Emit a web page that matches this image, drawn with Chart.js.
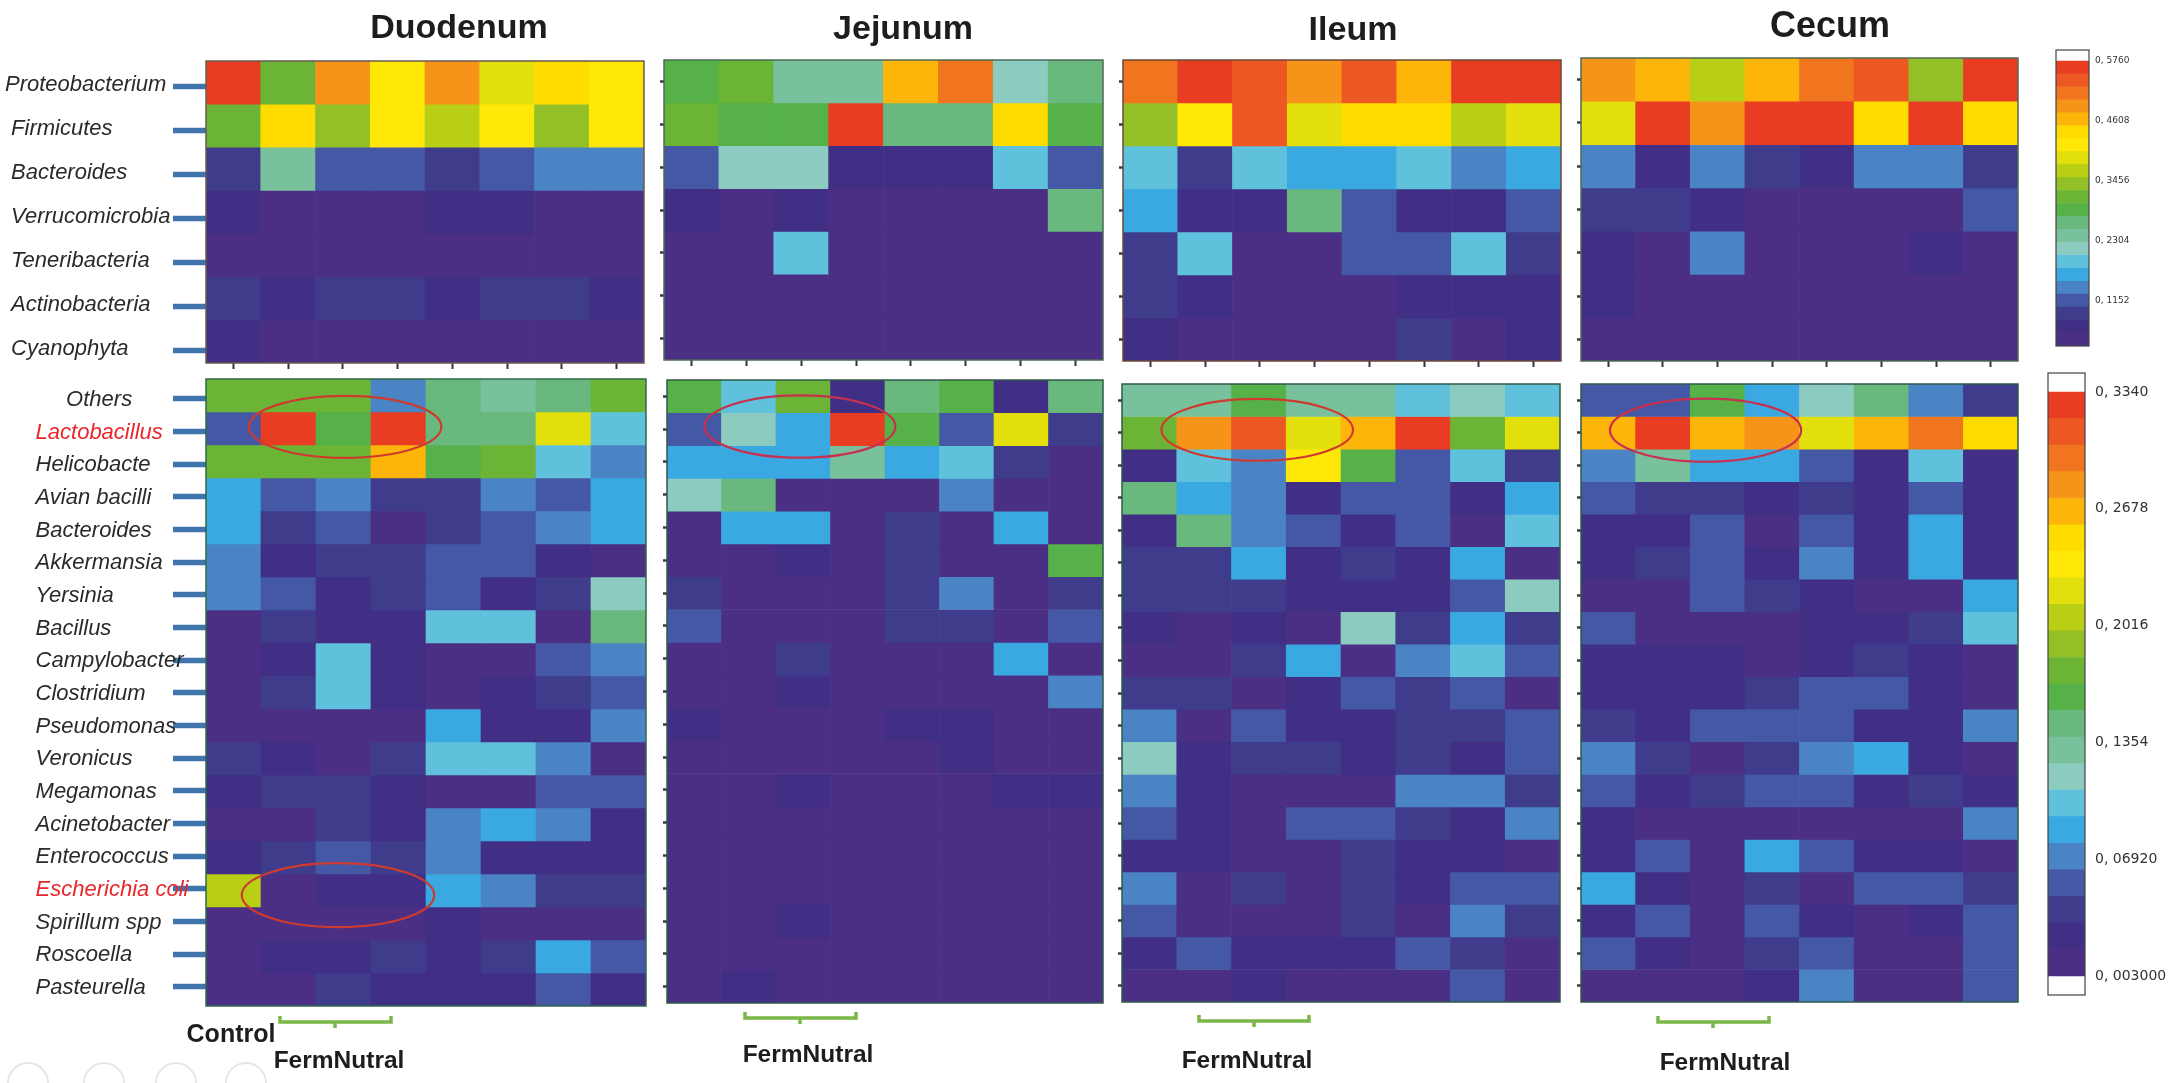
<!DOCTYPE html>
<html>
<head>
<meta charset="utf-8">
<script src="https://cdn.jsdelivr.net/npm/chart.js@4"></script>
<style>
html,body{margin:0;padding:0;background:#fff;width:2175px;height:1083px;overflow:hidden;position:relative}
canvas{position:absolute;display:block;filter:blur(0.6px)}
.t{position:absolute;font-family:"Liberation Sans",Arial,sans-serif;font-weight:bold;color:#1d1d1d;white-space:nowrap;transform:translate(-50%,-50%);filter:blur(0.5px)}
svg{position:absolute;left:0;top:0}
</style>
</head>
<body>
<svg width="2175" height="1083" id="ov">
  <g fill="none" stroke="#7ab648" stroke-width="3.5">
    <path d="M280 1016V1022H391V1016M335 1022V1028"/>
    <path d="M745 1012V1018H856V1012M800 1018V1024"/>
    <path d="M1199 1015V1021H1309V1015M1254 1021V1027"/>
    <path d="M1658 1016V1022H1769V1016M1713 1022V1028"/>
  </g>
  <g fill="none" stroke="#e6e6e6" stroke-width="2">
    <circle cx="28" cy="1083" r="20"/><circle cx="104" cy="1083" r="20"/>
    <circle cx="176" cy="1083" r="20"/><circle cx="246" cy="1083" r="20"/>
  </g>
</svg>
<div class="t" style="left:459px;top:26px;font-size:34px">Duodenum</div>
<div class="t" style="left:903px;top:27px;font-size:34px">Jejunum</div>
<div class="t" style="left:1353px;top:28px;font-size:34px">Ileum</div>
<div class="t" style="left:1830px;top:25px;font-size:36px">Cecum</div>
<div class="t" style="left:231px;top:1033px;font-size:25px">Control</div>
<div class="t" style="left:339px;top:1060px;font-size:24.5px">FermNutral</div>
<div class="t" style="left:808px;top:1054px;font-size:24.5px">FermNutral</div>
<div class="t" style="left:1247px;top:1060px;font-size:24.5px">FermNutral</div>
<div class="t" style="left:1725px;top:1062px;font-size:24.5px">FermNutral</div>
<script>
// ---- categories ----
const groups = ['1','2','3','4','5','6','7','8'];
const phylaLabels = ['Proteobacterium','Firmicutes','Bacteroides','Verrucomicrobia','Teneribacteria','Actinobacteria','Cyanophyta'];
const genusLabels = ['Others','Lactobacillus','Helicobacte','Avian bacilli','Bacteroides','Akkermansia','Yersinia','Bacillus','Campylobacter','Clostridium','Pseudomonas','Veronicus','Megamonas','Acinetobacter','Enterococcus','Escherichia coli','Spirillum spp','Roscoella','Pasteurella'];
const redLabels = ['Lactobacillus','Escherichia coli'];

// ---- colour-scale levels (index into the colour bar) ----
const duodenumPhyla = [
 [21,11,18,15,18,14,16,15],
 [11,16,12,15,13,15,12,15],
 [2,8,3,3,2,3,4,4],
 [1,0,0,0,1,1,0,0],
 [0,0,0,0,0,0,0,0],
 [2,1,2,2,1,2,2,1],
 [1,0,0,0,0,0,0,0]];
const jejunumPhyla = [
 [10,11,8,8,17,19,7,9],
 [11,10,10,21,9,9,16,10],
 [3,7,7,1,1,1,6,3],
 [1,0,1,0,0,0,0,9],
 [0,0,6,0,0,0,0,0],
 [0,0,0,0,0,0,0,0],
 [0,0,0,0,0,0,0,0]];
const ileumPhyla = [
 [19,21,20,18,20,17,21,21],
 [12,15,20,14,16,16,13,14],
 [6,2,6,5,5,6,4,5],
 [5,1,1,9,3,1,1,3],
 [2,6,0,0,3,3,6,2],
 [2,1,0,0,0,1,1,1],
 [1,0,0,0,0,2,0,1]];
const cecumPhyla = [
 [18,17,13,17,19,20,12,21],
 [14,21,18,21,21,16,21,16],
 [4,1,4,2,1,4,4,2],
 [2,2,1,0,0,0,0,3],
 [1,0,4,0,0,0,1,0],
 [1,0,0,0,0,0,0,0],
 [0,0,0,0,0,0,0,0]];
const duodenumGenus = [
 [11,11,11,4,9,8,9,11],
 [3,21,10,21,9,9,14,6],
 [11,11,11,17,10,11,6,4],
 [5,3,4,2,2,4,3,5],
 [5,2,3,0,2,3,4,5],
 [4,1,2,2,3,3,1,0],
 [4,3,1,2,3,1,2,7],
 [0,2,1,1,6,6,0,9],
 [0,1,6,1,0,0,3,4],
 [0,2,6,1,0,1,2,3],
 [0,0,0,0,5,1,1,4],
 [2,1,0,2,6,6,4,0],
 [1,2,2,1,0,0,3,3],
 [0,0,2,1,4,5,4,1],
 [1,2,3,2,4,1,1,1],
 [13,0,1,1,5,4,2,2],
 [0,0,0,0,1,0,0,0],
 [0,1,1,2,1,2,5,3],
 [0,0,2,1,1,1,3,1]];
const jejunumGenus = [
 [10,6,11,1,9,10,1,9],
 [3,7,5,21,10,3,14,2],
 [5,5,5,8,5,6,2,0],
 [7,9,0,0,0,4,0,0],
 [0,5,5,0,2,0,5,0],
 [0,0,1,0,2,0,0,10],
 [2,0,0,0,2,4,0,2],
 [3,0,0,0,2,2,0,3],
 [0,0,2,0,0,0,5,0],
 [0,0,1,0,0,0,0,4],
 [1,0,0,0,1,1,0,0],
 [0,0,0,0,0,1,0,0],
 [0,0,1,0,0,0,1,1],
 [0,0,0,0,0,0,0,0],
 [0,0,0,0,0,0,0,0],
 [0,0,0,0,0,0,0,0],
 [0,0,1,0,0,0,0,0],
 [0,0,0,0,0,0,0,0],
 [0,1,0,0,0,0,0,0]];
const ileumGenus = [
 [8,8,10,8,8,6,7,6],
 [11,18,20,14,17,21,11,14],
 [1,6,4,15,10,3,6,2],
 [9,5,4,1,3,3,1,5],
 [1,9,4,3,1,3,0,6],
 [2,2,5,1,2,1,5,0],
 [2,2,2,1,1,1,3,7],
 [1,0,1,0,7,2,5,2],
 [0,0,2,5,0,4,6,3],
 [2,2,0,1,3,2,3,0],
 [4,0,3,1,1,2,2,3],
 [7,1,2,2,1,2,1,3],
 [4,1,0,0,0,4,4,2],
 [3,1,0,3,3,2,1,4],
 [1,1,0,0,2,1,1,0],
 [4,0,2,0,2,1,3,3],
 [3,0,0,0,2,0,4,2],
 [1,3,1,1,1,3,2,0],
 [0,0,1,0,0,0,3,0]];
const cecumGenus = [
 [3,3,10,5,7,9,4,2],
 [17,21,17,18,14,17,19,16],
 [4,8,5,5,3,1,6,1],
 [3,2,2,1,2,1,3,1],
 [1,1,3,0,3,1,5,1],
 [1,2,3,1,4,1,5,1],
 [0,0,3,2,1,0,0,5],
 [3,0,0,0,1,1,2,6],
 [1,1,1,0,1,2,1,0],
 [1,1,1,2,3,3,1,0],
 [2,1,3,3,3,1,1,4],
 [4,2,0,2,4,5,1,0],
 [3,1,2,3,3,1,2,1],
 [1,0,0,0,0,0,0,4],
 [1,3,0,5,3,1,1,0],
 [5,1,0,2,0,3,3,2],
 [1,3,0,3,1,0,1,3],
 [3,1,0,2,3,0,0,3],
 [0,0,0,1,4,0,0,3]];

// ---- colour bar tick labels ----
const topBarTicks = [0.1152,0.2304,0.3456,0.4608,0.5760];
const topBarLabels = ['0, 1152','0, 2304','0, 3456','0, 4608','0, 5760'];
const bottomBarTicks = [0.003,0.0692,0.1354,0.2016,0.2678,0.3340];
const bottomBarLabels = ['0, 003000','0, 06920','0, 1354','0, 2016','0, 2678','0, 3340'];

// ---- styling ----
const palette = ['#4b2f84','#412f85','#3f3c8b','#4558a5','#4a84c4','#3aa9e1','#5fc1dc','#8ccbc0','#78c19c','#69b97f','#55b148','#6cb435','#93c026','#b8cf16','#e3df0c','#ffe808','#ffdc00','#fdb50a','#f6941a','#f1741f','#ed5722','#e83d22'];
const FONT = '"Liberation Sans", Arial, sans-serif';

const frame = {
  id:'frame',
  afterDraw(c,_a,o){
    const a=c.chartArea, x=c.ctx;
    x.save(); x.strokeStyle=o.color||'#4d5a50'; x.lineWidth=o.width||1.5;
    x.strokeRect(a.left,a.top,a.right-a.left,a.bottom-a.top); x.restore();
  }
};
const ellipses = {
  id:'ellipses',
  afterDatasetsDraw(c,_a,o){
    const x=c.ctx, sx=c.scales.x, sy=c.scales.y;
    (o.items||[]).forEach(e=>{
      const px=sx.getPixelForValue(e.col-0.5), py=sy.getPixelForValue(e.row);
      const rx=Math.abs(sx.getPixelForValue(e.col-0.5+e.rx)-px), ry=Math.abs(sy.getPixelForValue(e.row+e.ry)-py);
      x.save(); x.beginPath(); x.ellipse(px,py,rx,ry,0,0,Math.PI*2);
      x.strokeStyle=e.color; x.lineWidth=2.2; x.stroke(); x.restore();
    });
  }
};

function mount(left,top,w,h){
  const c=document.createElement('canvas');
  c.width=w; c.height=h;
  c.style.left=left+'px'; c.style.top=top+'px'; c.style.width=w+'px'; c.style.height=h+'px';
  document.body.appendChild(c);
  return c.getContext('2d');
}

function heat(rect,rows,labels,o){
  o=o||{};
  const n=rows.length, labelled=!!o.labelled, pad=6;
  const left=labelled?0:rect.x-pad, top=rect.y-pad;
  const w=rect.x+rect.w+pad-left, h=rect.h+pad*2;
  const axisW=labelled?rect.x-o.labelLeft:pad;
  const ctx=mount(left,top,w,h);
  new Chart(ctx,{
    type:'bar',
    data:{labels:groups,datasets:rows.map((r,i)=>({
      label:labels[i],
      data:r.map(()=>[i,i+1]),
      backgroundColor:r.map(v=>palette[v]),
      borderWidth:0,borderSkipped:false,barPercentage:1,categoryPercentage:1
    }))},
    plugins:[frame,ellipses],
    options:{
      responsive:false,animation:false,devicePixelRatio:1,
      layout:{padding:{left:labelled?o.labelLeft:0,top:pad,right:pad,bottom:o.xTicks?0:pad}},
      plugins:{legend:{display:false},tooltip:{enabled:false},title:{display:false},
        frame:{color:o.frame},ellipses:{items:o.ellipses||[]}},
      scales:{
        x:{type:'category',stacked:true,border:{display:false},
          grid:{offset:false,drawOnChartArea:false,drawTicks:!!o.xTicks,tickLength:pad,tickColor:'#33333a',tickWidth:2},
          ticks:{display:false},
          afterFit:s=>{s.height=o.xTicks?pad:0;s.paddingLeft=0;s.paddingRight=0;}},
        y:{type:'linear',reverse:true,min:0,max:n,border:{display:false},
          afterBuildTicks:s=>{s.ticks=labels.map((_,i)=>({value:(o.tickStart||0.5)+i*(o.tickStep||1)}));},
          afterFit:s=>{s.width=axisW;s.paddingTop=0;s.paddingBottom=0;},
          grid:{drawOnChartArea:false,tickLength:labelled?33:4,tickColor:labelled?'#3f74ac':'#3a3a44',tickWidth:labelled?5.5:2.5},
          ticks:{display:labelled,autoSkip:false,crossAlign:'far',padding:0,labelOffset:o.labelOffset||0,
            font:{family:FONT,size:22,style:'italic'},
            color:c=>redLabels.includes(labels[c.index])?'#e8262c':'#2a2a2a',
            callback:(_v,i)=>'\u00A0'.repeat((o.indent||{})[labels[i]]||0)+labels[i]}
        }
      }
    }
  });
}

function colorBar(rect,ticks,tickLabels,lo,hi,vmin,vmax,fs,gap){
  const pad=3, w=2175-rect.x+pad;
  const ctx=mount(rect.x-pad,rect.y-pad,w,rect.h+pad*2);
  const step=(hi-lo)/palette.length;
  new Chart(ctx,{
    type:'bar',
    data:{labels:['scale'],datasets:palette.map((c,i)=>({
      label:'level '+i,data:[[lo+i*step,lo+(i+1)*step]],backgroundColor:c,
      borderWidth:0,borderSkipped:false,barPercentage:1,categoryPercentage:1
    }))},
    plugins:[frame],
    options:{
      responsive:false,animation:false,devicePixelRatio:1,
      layout:{padding:{left:pad,top:pad,bottom:pad,right:0}},
      plugins:{legend:{display:false},tooltip:{enabled:false},frame:{color:'#444',width:1.2}},
      scales:{
        x:{display:false,stacked:true},
        y:{type:'linear',position:'right',min:vmin,max:vmax,border:{display:false},
          afterBuildTicks:s=>{s.ticks=ticks.map(v=>({value:v}));},
          afterFit:s=>{s.width=w-pad-rect.w;s.paddingTop=0;s.paddingBottom=0;},
          grid:{drawOnChartArea:false,drawTicks:false},
          ticks:{autoSkip:false,padding:gap,crossAlign:'near',font:{family:'"DejaVu Sans", sans-serif',size:fs},color:'#333',
            callback:(_v,i)=>tickLabels[i]}
        }
      }
    }
  });
}

const red='#cf3a2e', rose='#c9304f';
heat({x:206,y:61,w:438,h:302},duodenumPhyla,phylaLabels,{labelled:true,labelLeft:5,xTicks:true,tickStart:0.6,tickStep:1.02,labelOffset:-2,indent:{Firmicutes:1,Bacteroides:1,Verrucomicrobia:1,Teneribacteria:1,Actinobacteria:1,Cyanophyta:1},frame:'#6a5a50'});
heat({x:664,y:60,w:439,h:300},jejunumPhyla,phylaLabels,{xTicks:true,frame:'#4d6a55'});
heat({x:1123,y:60,w:438,h:301},ileumPhyla,phylaLabels,{xTicks:true,frame:'#6a4a3a'});
heat({x:1581,y:58,w:437,h:303},cecumPhyla,phylaLabels,{xTicks:true,frame:'#4d6a55'});

const g2={labelled:true,labelLeft:5,tickStart:0.6,tickStep:0.99,labelOffset:1,
  indent:Object.fromEntries(genusLabels.map(l=>[l,l==='Others'?10:5])),frame:'#2f6a4a',
  ellipses:[{col:2.53,row:1.45,rx:1.75,ry:0.94,color:red},{col:2.4,row:15.64,rx:1.75,ry:0.97,color:red}]};
heat({x:206,y:379,w:440,h:627},duodenumGenus,genusLabels,g2);
heat({x:667,y:380,w:436,h:623},jejunumGenus,genusLabels,{frame:'#2f5a4a',ellipses:[{col:2.44,row:1.42,rx:1.75,ry:0.95,color:rose}]});
heat({x:1122,y:384,w:438,h:618},ileumGenus,genusLabels,{frame:'#2f5a4a',ellipses:[{col:2.47,row:1.41,rx:1.75,ry:0.95,color:red}]});
heat({x:1581,y:384,w:437,h:618},cecumGenus,genusLabels,{frame:'#2f5a4a',ellipses:[{col:2.28,row:1.42,rx:1.75,ry:0.97,color:rose}]});

colorBar({x:2056,y:50,w:33,h:296},topBarTicks,topBarLabels,0.0288,0.576,0.0288,0.5971,9,6);
colorBar({x:2048,y:373,w:37,h:622},bottomBarTicks,bottomBarLabels,0.003,0.334,-0.0078,0.3448,14,10);
</script>
</body>
</html>
